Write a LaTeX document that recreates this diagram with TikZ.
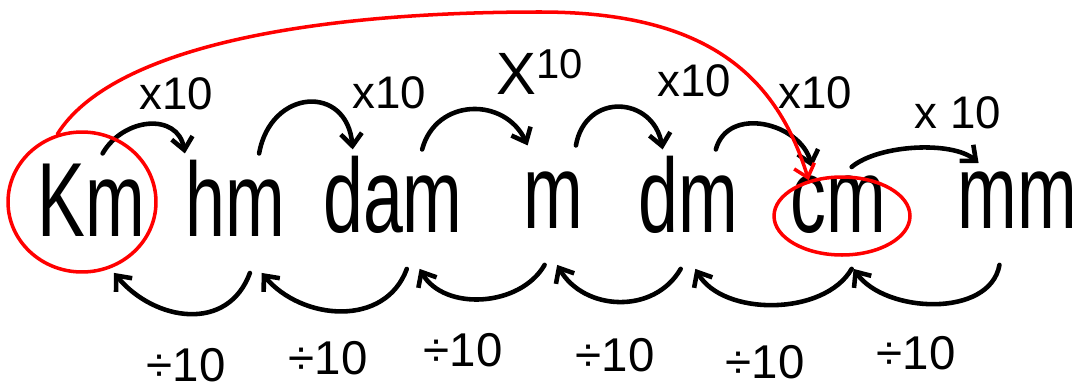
\documentclass[tikz,border=0pt]{standalone}
\usepackage{fontspec}
\setmainfont{Liberation Sans}
\newfontfamily\handfont[FakeStretch=0.68]{Liberation Sans}
\usetikzlibrary{arrows.meta,shapes.geometric}

\tikzset{
  unit/.style={font=\handfont\fontsize{60}{60}\selectfont, anchor=base, inner sep=0pt, outer sep=3pt,
               text height=44pt, text depth=18pt},
  low/.style={text height=34pt},
  times/.style={font=\fontsize{26}{26}\selectfont},
  divides/.style={font=\fontsize{27}{27}\selectfont},
  hop/.style={->, line width=2.6pt, line cap=round, line join=round},
  ring/.style={draw=red, line width=2pt, ellipse, inner sep=0pt},
  jump/.style={->, red, line width=2pt, line cap=round}
}

\begin{document}
\begin{tikzpicture}[x=0.02cm, y=0.02cm, >={Straight Barb[length=7pt, width=12pt]}]
        \useasboundingbox (0,0) rectangle (1082,390);

        % Units
        \node[unit] (km)    at (91,154)   {Km};
        \node[unit] (hm)    at (235,154)  {hm};
        \node[unit] (dam)   at (393,158)  {dam};
        \node[unit] (metre) at (553,162)  {m};
        \node[unit] (dm)    at (688,158)  {dm};
        \node[unit, low] (cm) at (838,158)  {cm};
        \node[unit, low] (mm) at (1017,162) {mm};

        % Multiply steps
        \draw[hop] (km.79)    to[out=60, in=100, looseness=1.3] (hm.130);
        \draw[hop] (hm.68)    to[out=80, in=95, looseness=1.8]  (dam.124);
        \draw[hop] (dam.64)   to[out=75, in=115, looseness=1.3] (metre.113);
        \draw[hop] (metre.69) to[out=80, in=100, looseness=1.6] (dm.113);
        \draw[hop] (dm.65)    to[out=75, in=105, looseness=1.2] (cm.117);
        \draw[hop] (cm.75)    to[out=40, in=140, looseness=0.7] (mm.127);

        \node[times] (times1) at (176,296) {x10};
        \node[times] (times2) at (389,297) {x10};
        \node[font=\fontsize{34}{34}\selectfont] (times3) at (540,318) {X\textsuperscript{10}};
        \node[times] (times4) at (694,309) {x10};
        \node[times] (times5) at (815,297) {x10};
        \node[times] (times6) at (958,277) {x 10};

        % Divide steps
        \draw[hop] (hm.-76)    to[out=-110, in=-50, looseness=1.2]  (km.-69);
        \draw[hop] (dam.-77)   to[out=-110, in=-50, looseness=1.1]  (hm.-66);
        \draw[hop] (metre.-98) to[out=-120, in=-60]                 (dam.-66);
        \draw[hop] (dm.-97)    to[out=-120, in=-60, looseness=1.1]  (metre.-86);
        \draw[hop] (cm.-75)    to[out=-120, in=-60, looseness=0.9]  (dm.-83);
        \draw[hop] (mm.-109)   to[out=-100, in=-55, looseness=0.95] (cm.-73);

        \node[divides] (div1) at (186,25) {÷10};
        \node[divides] (div2) at (328,32) {÷10};
        \node[divides] (div3) at (463,40) {÷10};
        \node[divides] (div4) at (615,35) {÷10};
        \node[divides] (div5) at (765,28) {÷10};
        \node[divides] (div6) at (916,37) {÷10};

        % Km straight to cm
        \node[ring, minimum width=2.96cm, minimum height=2.8cm]  (kmring) at (82,188) {};
        \node[ring, minimum width=2.72cm, minimum height=1.56cm] (cmring) at (842,174) {};
        \draw[jump] (kmring.110) .. controls (110,340) and (300,378) .. (540,378)
                                 .. controls (700,378) and (775,320) .. (cmring.133);
    \end{tikzpicture}
\end{document}
